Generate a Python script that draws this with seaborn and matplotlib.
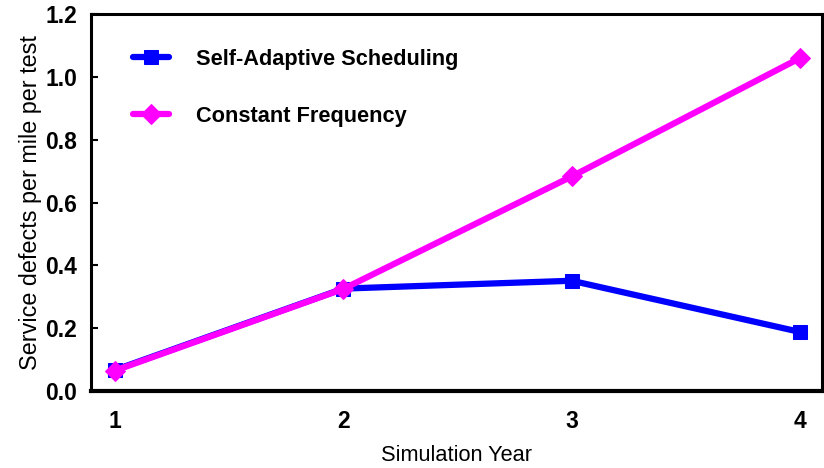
import pandas as pd
import matplotlib.pyplot as plt
import seaborn as sns

# Data
years = [1, 2, 3, 4]
self_adaptive = [0.067, 0.326, 0.351, 0.188]
constant_freq = [0.065, 0.325, 0.683, 1.060]
series_names = ['Self-Adaptive Scheduling', 'Constant Frequency']
colors = {series_names[0]: '#0000ff', series_names[1]: '#ff00ff'}

df = pd.DataFrame({
    'year': years * 2,
    'value': self_adaptive + constant_freq,
    'series': [series_names[0]] * 4 + [series_names[1]] * 4,
})

sns.set_style('white')
plt.rcParams['font.family'] = ['Liberation Sans', 'DejaVu Sans']
plt.rcParams.update({'text.color': 'black', 'axes.labelcolor': 'black',
                     'xtick.color': 'black', 'ytick.color': 'black'})

fig = plt.figure(figsize=(8.24, 4.68), dpi=100)
ax = fig.add_axes([0.1104, 0.1645, 0.8872, 0.8055])

sns.lineplot(data=df, x='year', y='value', hue='series', style='series',
             palette=colors,
             markers={series_names[0]: 's', series_names[1]: 'D'},
             dashes=False, linewidth=4.5, markersize=10, ax=ax)

# solid markers with same-colour edges
for line in ax.get_lines():
    line.set_markeredgecolor(line.get_color())

ax.set_xlim(0.895, 4.096)
ax.set_ylim(0, 1.2)
ax.set_xticks(years)
ax.set_yticks([0.0, 0.2, 0.4, 0.6, 0.8, 1.0, 1.2])
ax.set_yticklabels(['0.0', '0.2', '0.4', '0.6', '0.8', '1.0', '1.2'])
ax.tick_params(axis='x', length=0, pad=13.5, labelsize=16.5)
ax.tick_params(axis='y', direction='in', length=5, width=1.5, pad=10, labelsize=16.5, left=True)
for lbl in ax.get_xticklabels() + ax.get_yticklabels():
    lbl.set_fontweight('bold')

for side, sp in ax.spines.items():
    sp.set_visible(True)
    sp.set_color('black')
    sp.set_linewidth(2.2)
ax.spines['bottom'].set_linewidth(3)

ax.set_xlabel('Simulation Year', fontsize=15.7, labelpad=9)
ax.set_ylabel('Service defects per mile per test', fontsize=16.8, labelpad=2)

leg = ax.legend(loc='upper left', bbox_to_anchor=(0.045, 0.931), frameon=False,
                prop={'weight': 'bold', 'size': 15.7}, handlelength=1.65,
                handletextpad=1.24, labelspacing=1.64, borderaxespad=0)
for h in leg.legend_handles:
    h.set_markeredgecolor(h.get_color())
    h.set_linewidth(4.5)

plt.savefig('out.png', dpi=100)
